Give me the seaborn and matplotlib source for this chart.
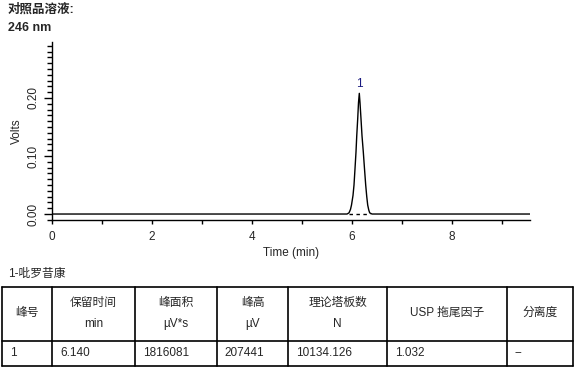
import matplotlib.pyplot as plt
import numpy as np
import pandas as pd
import seaborn as sns
from matplotlib.ticker import MultipleLocator, FixedLocator

sns.set_theme(style='ticks')
plt.rcParams['font.family'] = ['Liberation Sans', 'Noto Sans CJK SC', 'DejaVu Sans']
plt.rcParams['font.size'] = 8

# chromatogram trace
trace_time = [0.0, 5.90, 5.94, 5.97, 5.99, 6.02, 6.04, 6.06, 6.08, 6.095, 6.114, 6.13, 6.146,
              6.16, 6.18, 6.20, 6.226, 6.25, 6.274, 6.295, 6.314, 6.335, 6.354, 6.40, 9.56]
trace_volts = [0.0, 0.0, 0.002, 0.008, 0.0155, 0.032, 0.050, 0.078, 0.107, 0.135, 0.164, 0.192, 0.208,
               0.192, 0.164, 0.135, 0.107, 0.078, 0.050, 0.030, 0.0155, 0.007, 0.002, 0.0, 0.0]
peak_start, peak_end = 5.94, 6.354
peak_rt, peak_height = 6.146, 0.208
peak_name = '1'

# result table
compound = '1-吡罗昔康'
col_head = ['峰号', '保留时间\nmin', '峰面积\nµV*s', '峰高\nµV', '理论塔板数\nN', 'USP 拖尾因子', '分离度']
row_vals = ['1', '6.140', '1816081', '207441', '10134.126', '1.032', '--']

W, H = 582, 374
fig = plt.figure(figsize=(W / 100, H / 100), dpi=100)
ax = fig.add_axes([52 / W, 154 / H, 478 / W, (220 - 41.7) / H])

df = pd.DataFrame({'t': trace_time, 'v': trace_volts})
sns.lineplot(data=df, x='t', y='v', color='black', lw=1, sort=False, ax=ax)
ax.plot([peak_start, peak_end], [0, 0], color='black', lw=1, ls=(0, (2.5, 2.5)), zorder=3)
ax.text(peak_rt, peak_height + 0.005, peak_name, color='#1a1a80', ha='center', va='bottom', fontsize=8.5)

ax.set_xlim(0, 9.56)
ax.set_ylim(-0.0103, 0.297)
sns.despine(ax=ax)
ax.spines['left'].set_linewidth(1)
ax.spines['bottom'].set_linewidth(1)
ax.spines['left'].set_color('black')
ax.spines['bottom'].set_color('black')
ax.xaxis.set_major_locator(MultipleLocator(2))
ax.xaxis.set_minor_locator(MultipleLocator(1))
ax.yaxis.set_major_locator(FixedLocator([0.0, 0.1, 0.2]))
ax.yaxis.set_minor_locator(MultipleLocator(0.01))
ax.set_yticklabels(['0.00', '0.10', '0.20'], rotation=90, va='center')
ax.tick_params(axis='x', which='both', length=3, width=1, color='black', pad=5, labelsize=8.5)
ax.tick_params(axis='y', which='major', length=6, width=1, color='black', pad=3, labelsize=8.5)
ax.tick_params(axis='y', which='minor', length=3.5, width=1, color='black')
ax.set_xlabel('Time (min)', fontsize=8.5, labelpad=3)
ax.set_ylabel('Volts', fontsize=8.5, labelpad=3)

# overlay in pixel coordinates for header texts and table
ov = fig.add_axes([0, 0, 1, 1], facecolor='none')
ov.set_xlim(0, W)
ov.set_ylim(H, 0)
ov.axis('off')
ov.text(8, 10, '对照品溶液:', fontsize=9, fontweight='bold', va='center', ha='left')
ov.text(8, 28, '246 nm', fontsize=9, fontweight='bold', va='center', ha='left')
ov.text(8, 274, compound, fontsize=8.5, va='center', ha='left')

col_edges = [1.7, 52.3, 135, 216.7, 288.3, 387.3, 506.7, 573.3]
row_edges = [286.7, 341, 366]
for x in col_edges:
    ov.plot([x, x], [row_edges[0], row_edges[-1]], color='black', lw=1.2)
for y in row_edges:
    ov.plot([col_edges[0], col_edges[-1]], [y, y], color='black', lw=1.2)
for i, (h, v) in enumerate(zip(col_head, row_vals)):
    xc = (col_edges[i] + col_edges[i + 1]) / 2
    lines = h.split('\n')
    if len(lines) == 1:
        ov.text(xc, 313, lines[0], fontsize=8.5, ha='center', va='center')
    else:
        ov.text(xc, 303, lines[0], fontsize=8.5, ha='center', va='center')
        ov.text(xc, 324, lines[1], fontsize=8.5, ha='center', va='center')
    ov.text(col_edges[i] + 8, 353.5, v, fontsize=8.5, ha='left', va='center')

fig.savefig('out.png', dpi=100)
